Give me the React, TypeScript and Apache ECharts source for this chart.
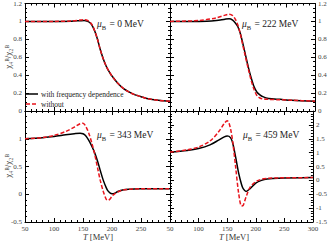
import React, { useEffect, useRef } from "react";
import * as echarts from "echarts";

// ---- data ----
const T0 = [50, 100, 130, 145, 152, 158, 163, 167, 171, 175, 180, 185, 190, 195, 200, 210, 220, 230, 240, 250, 260, 280, 300];
const black0 = [1.0, 1.0, 1.003, 1.008, 1.01, 1.0, 0.98, 0.94, 0.88, 0.8, 0.68, 0.58, 0.5, 0.44, 0.39, 0.31, 0.25, 0.21, 0.18, 0.16, 0.14, 0.12, 0.11];
const red0 = [1.0, 1.0, 1.005, 1.015, 1.02, 1.01, 0.985, 0.945, 0.88, 0.8, 0.68, 0.58, 0.5, 0.44, 0.39, 0.31, 0.25, 0.21, 0.18, 0.16, 0.14, 0.12, 0.11];

const T222 = [50, 100, 130, 145, 152, 158, 163, 167, 171, 175, 180, 185, 190, 195, 200, 205, 210, 220, 240, 260, 300];
const black222 = [1.0, 1.0, 1.01, 1.025, 1.03, 1.015, 0.98, 0.94, 0.87, 0.77, 0.63, 0.49, 0.37, 0.27, 0.21, 0.18, 0.16, 0.14, 0.13, 0.12, 0.11];
const red222 = [1.0, 1.01, 1.04, 1.07, 1.08, 1.065, 1.02, 0.96, 0.87, 0.75, 0.61, 0.47, 0.34, 0.24, 0.17, 0.145, 0.135, 0.13, 0.125, 0.12, 0.11];

const T343 = [50, 80, 100, 120, 135, 145, 150, 155, 160, 165, 170, 175, 180, 185, 190, 193, 197, 200, 205, 210, 220, 230, 250, 300];
const black343 = [1.0, 1.02, 1.04, 1.07, 1.09, 1.1, 1.09, 1.05, 0.97, 0.87, 0.75, 0.6, 0.42, 0.25, 0.12, 0.06, 0.02, 0.01, 0.02, 0.05, 0.08, 0.09, 0.1, 0.1];
const red343 = [1.0, 1.02, 1.06, 1.13, 1.21, 1.27, 1.28, 1.22, 1.1, 0.93, 0.73, 0.48, 0.24, 0.05, -0.09, -0.11, -0.08, -0.03, 0.01, 0.04, 0.08, 0.09, 0.1, 0.1];

const T459 = [50, 80, 100, 120, 135, 145, 150, 153, 157, 160, 165, 170, 175, 178, 183, 190, 200, 210, 220, 240, 300];
const black459 = [1.02, 1.08, 1.15, 1.28, 1.45, 1.57, 1.6, 1.59, 1.5, 1.32, 0.82, 0.27, -0.14, -0.3, -0.4, -0.3, -0.1, 0.0, 0.05, 0.08, 0.1];
const red459 = [1.02, 1.1, 1.2, 1.42, 1.75, 2.05, 2.15, 2.08, 1.75, 1.35, 0.45, -0.45, -0.92, -0.9, -0.6, -0.25, -0.05, 0.04, 0.07, 0.09, 0.1];

const muLabels = ["0", "222", "343", "459"];
const legendNames = ["with frequency dependence", "without"];

const FONT = "Liberation Serif";
const BLACK = "#000";
const RED = "#e8141c";

const pair = (t: number[], v: number[]) => t.map((x, i) => [x, v[i]]);

export default function App() {
  const ref = useRef<HTMLDivElement>(null);
  useEffect(() => {
    document.body.style.margin = "0";
    const chart = echarts.init(ref.current!, null, { renderer: "svg" });

    const grids = [
      { left: 25, top: 3, width: 145, height: 108 },
      { left: 170, top: 3, width: 145, height: 108 },
      { left: 25, top: 111, width: 145, height: 111 },
      { left: 170, top: 111, width: 145, height: 111 },
    ];
    const yRanges = [
      { min: 0, max: 1.2, interval: 0.2, minor: 4 },
      { min: 0, max: 1.2, interval: 0.2, minor: 4 },
      { min: -0.5, max: 1.5, interval: 0.5, minor: 5 },
      { min: -1.5, max: 2.5, interval: 0.5, minor: 5 },
    ];
    const labelStyle = { fontFamily: FONT, fontSize: 7, color: "#444" };

    const xAxes: any[] = [];
    const yAxes: any[] = [];
    grids.forEach((g, i) => {
      const bottomLabels = i >= 2;
      ["bottom", "top"].forEach((pos) => {
        xAxes.push({
          type: "value",
          gridIndex: i,
          position: pos,
          min: 50,
          max: 300,
          interval: 50,
          axisLine: { show: true, onZero: false, lineStyle: { color: BLACK, width: 1 } },
          axisTick: { show: true, inside: true, length: 4, lineStyle: { color: BLACK } },
          minorTick: { show: true, splitNumber: 5, length: 2, lineStyle: { color: BLACK } },
          splitLine: { show: false },
          axisLabel: {
            show: pos === "bottom" && bottomLabels,
            ...labelStyle,
            margin: 3,
            formatter: (v: number) => (i === 2 && v === 300 ? "" : String(v)),
          },
        });
      });
      const yr = yRanges[i];
      ["left", "right"].forEach((pos) => {
        const showLab = (i % 2 === 0 && pos === "left") || (i % 2 === 1 && pos === "right");
        yAxes.push({
          type: "value",
          gridIndex: i,
          position: pos,
          min: yr.min,
          max: yr.max,
          interval: yr.interval,
          axisLine: { show: true, onZero: false, lineStyle: { color: BLACK, width: 1 } },
          axisTick: { show: true, inside: true, length: 4, lineStyle: { color: BLACK } },
          minorTick: { show: true, splitNumber: yr.minor, length: 2, lineStyle: { color: BLACK } },
          splitLine: { show: false },
          axisLabel: {
            show: showLab,
            ...labelStyle,
            margin: 3,
            formatter: (v: number) => (i >= 2 && Math.abs(v - yr.max) < 1e-9 ? "" : String(Math.round(v * 10) / 10)),
          },
        });
      });
    });

    const curves = [
      [T0, black0, red0],
      [T222, black222, red222],
      [T343, black343, red343],
      [T459, black459, red459],
    ] as number[][][];
    const series: any[] = [];
    curves.forEach(([t, b, r], i) => {
      series.push({
        type: "line",
        name: legendNames[0],
        xAxisIndex: 2 * i,
        yAxisIndex: 2 * i,
        data: pair(t, b),
        symbol: "none",
        smooth: 0.3,
        lineStyle: { color: BLACK, width: 1.5 },
        itemStyle: { color: BLACK },
        z: 3,
      });
      series.push({
        type: "line",
        name: legendNames[1],
        xAxisIndex: 2 * i,
        yAxisIndex: 2 * i,
        data: pair(t, r),
        symbol: "none",
        smooth: 0.3,
        lineStyle: { color: RED, width: 1.5, type: [4, 2] },
        itemStyle: { color: RED },
        z: 4,
      });
    });

    const annPos = [
      [97, 24],
      [242, 24],
      [97, 135],
      [243, 135],
    ];
    const graphics: any[] = annPos.map(([x, y], i) => ({
      type: "text",
      x,
      y,
      style: {
        text: `{m|μ}{s|B} = ${muLabels[i]} MeV`,
        fontFamily: FONT,
        fontSize: 9.5,
        fill: "#222",
        verticalAlign: "middle",
        rich: {
          m: { fontFamily: FONT, fontSize: 9.5, fontStyle: "italic", fill: "#222" },
          s: { fontFamily: FONT, fontSize: 6.5, fill: "#222", verticalAlign: "bottom", padding: [6, 1, 0, 0] },
        },
      },
    }));
    [57, 166].forEach((cy) => {
      graphics.push({
        type: "text",
        x: 8,
        y: cy,
        rotation: Math.PI / 2,
        style: {
          text: "χ\u2084\u1D2E/χ\u2082\u1D2E",
          fontFamily: FONT,
          fontSize: 9,
          fill: "#333",
          align: "center",
          verticalAlign: "middle",
        },
      });
    });
    [98, 234].forEach((cx) => {
      graphics.push({
        type: "text",
        x: cx,
        y: 237,
        style: {
          text: "{i|T} [MeV]",
          fontFamily: FONT,
          fontSize: 8.5,
          fill: "#333",
          align: "center",
          verticalAlign: "middle",
          rich: { i: { fontFamily: FONT, fontSize: 8.5, fontStyle: "italic", fill: "#333" } },
        },
      });
    });
    // legend (drawn as graphic lines + texts)
    graphics.push(
      { type: "line", shape: { x1: 26, y1: 94, x2: 38, y2: 94 }, style: { stroke: BLACK, lineWidth: 1.5 } },
      { type: "line", shape: { x1: 26, y1: 104, x2: 38, y2: 104 }, style: { stroke: RED, lineWidth: 1.5, lineDash: [4, 2] } },
      {
        type: "text",
        x: 41,
        y: 94,
        style: { text: legendNames[0], fontFamily: FONT, fontSize: 7.5, fill: "#222", verticalAlign: "middle" },
      },
      {
        type: "text",
        x: 41,
        y: 104,
        style: { text: legendNames[1], fontFamily: FONT, fontSize: 7.5, fill: "#222", verticalAlign: "middle" },
      }
    );

    chart.setOption({
      animation: false,
      backgroundColor: "#fff",
      grid: grids,
      xAxis: xAxes,
      yAxis: yAxes,
      series,
      graphic: graphics,
    });
    return () => chart.dispose();
  }, []);
  return <div ref={ref} style={{ width: 330, height: 242 }} />;
}
